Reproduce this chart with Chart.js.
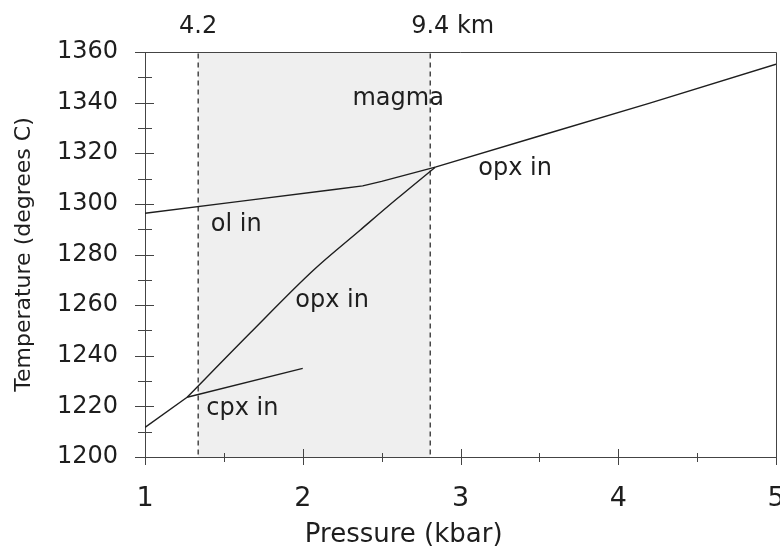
<!DOCTYPE html>
<html>
<head>
<meta charset="utf-8">
<script src="https://cdn.jsdelivr.net/npm/chart.js@4.4.1/dist/chart.umd.min.js"></script>
<style>
  body { margin: 0; background: #fff; }
  #wrap { width: 780px; height: 546px; }
</style>
</head>
<body>
<div id="wrap"><canvas id="phaseChart"></canvas></div>
<script>
// Pressure (kbar) / temperature (degrees C)
const olInP = [1, 1.6, 2.2, 2.38, 2.5, 2.84];
const olInT = [1296.3, 1301.0, 1305.7, 1307.1, 1308.9, 1314.5];

const opxHighP = [2.84, 3.5, 4.2, 5];
const opxHighT = [1314.5, 1326.8, 1339.8, 1355.2];

const opxLowP = [1.267, 1.668, 2.069, 2.365, 2.597, 2.84];
const opxLowT = [1223.6, 1249.1, 1273.9, 1289.7, 1302.0, 1314.5];

const cpxLowP = [1, 1.267];
const cpxLowT = [1211.7, 1223.6];

const cpxInP = [1.267, 2.0];
const cpxInT = [1223.6, 1235.0];

// magma chamber limits (depth labels on top)
const depthP = [1.337, 2.808];
const depthLabels = ['4.2', '9.4 km'];

// phase field labels
const labelText = ['magma', 'ol in', 'opx in', 'opx in', 'cpx in'];
const labelP = [2.605, 1.578, 2.186, 3.346, 1.617];
const labelT = [1339.1, 1289.4, 1259.1, 1311.4, 1216.6];

// axis ticks
const xTicks = [1, 2, 3, 4, 5];
const xMinor = [1.5, 2.5, 3.5, 4.5];
const yTicks = [1200, 1220, 1240, 1260, 1280, 1300, 1320, 1340, 1360];
const yMinor = [1210, 1230, 1250, 1270, 1290, 1310, 1330, 1350];

const xTitle = 'Pressure (kbar)';
const yTitle = 'Temperature (degrees C)';

const INK = '#1e1e1e';
const AXIS = '#444';

function toPoints(px, py) {
    return px.map((p, i) => ({ x: p, y: py[i] }));
}

function curve(px, py, smooth) {
    return {
        data: toPoints(px, py),
        showLine: true,
        borderColor: INK,
        borderWidth: 1.4,
        pointRadius: 0,
        cubicInterpolationMode: smooth ? 'monotone' : 'default',
        fill: false
    };
}

const datasets = [
    curve(olInP, olInT),
    curve(opxHighP, opxHighT),
    curve(opxLowP, opxLowT, true),
    curve(cpxLowP, cpxLowT),
    curve(cpxInP, cpxInT)
];

// dashed limits of the magma chamber
depthP.forEach(p => {
    datasets.push({
        data: [{ x: p, y: 1201 }, { x: p, y: 1360 }],
        showLine: true,
        borderColor: INK,
        borderWidth: 1.2,
        borderDash: [5, 4],
        pointRadius: 0,
        fill: false
    });
});

// shaded band between them
datasets.push({
    data: [{ x: depthP[0], y: 1360 }, { x: depthP[1], y: 1360 }],
    showLine: true,
    borderWidth: 0,
    pointRadius: 0,
    backgroundColor: '#efefef',
    fill: 'start',
    order: 10
});

// ticks crossing the axes, frame and text labels
const decorations = {
    id: 'decorations',
    afterDraw(chart) {
        const { ctx, chartArea: a, scales: { x, y } } = chart;
        ctx.save();

        ctx.strokeStyle = AXIS;
        ctx.lineWidth = 1;
        ctx.beginPath();
        ctx.moveTo(a.left, a.top + 0.5);
        ctx.lineTo(a.right + 0.5, a.top + 0.5);
        ctx.lineTo(a.right + 0.5, a.bottom);
        ctx.stroke();

        ctx.beginPath();
        yTicks.forEach(v => {
            const py = Math.round(y.getPixelForValue(v)) + 0.5;
            ctx.moveTo(a.left - 10, py);
            ctx.lineTo(a.left + 9, py);
        });
        yMinor.forEach(v => {
            const py = Math.round(y.getPixelForValue(v)) + 0.5;
            ctx.moveTo(a.left - 7, py);
            ctx.lineTo(a.left + 7, py);
        });
        xTicks.forEach(v => {
            const px = Math.round(x.getPixelForValue(v)) + 0.5;
            ctx.moveTo(px, a.bottom - 8);
            ctx.lineTo(px, a.bottom + 8);
        });
        xMinor.forEach(v => {
            const px = Math.round(x.getPixelForValue(v)) + 0.5;
            ctx.moveTo(px, a.bottom - 4);
            ctx.lineTo(px, a.bottom + 5);
        });
        ctx.stroke();

        ctx.fillStyle = INK;
        ctx.font = '24px "DejaVu Sans"';
        ctx.textBaseline = 'alphabetic';
        ctx.textAlign = 'center';
        labelText.forEach((t, i) => {
            ctx.fillText(t, x.getPixelForValue(labelP[i]), y.getPixelForValue(labelT[i]));
        });

        // depth labels: number centred on its dashed line
        ctx.textAlign = 'left';
        depthLabels.forEach((t, i) => {
            const num = t.split(' ')[0];
            const w = ctx.measureText(num).width;
            ctx.fillText(t, x.getPixelForValue(depthP[i]) - w / 2, a.top - 19);
        });

        // x axis title sits left of centre in the original
        ctx.font = '26px "DejaVu Sans"';
        ctx.textAlign = 'center';
        ctx.fillText(xTitle, x.getPixelForValue(2.64), 542);

        ctx.restore();
    }
};

new Chart(document.getElementById('phaseChart'), {
    type: 'scatter',
    data: { datasets: datasets },
    options: {
        responsive: true,
        maintainAspectRatio: false,
        animation: false,
        layout: { padding: { top: 52, right: 4, left: 0, bottom: 0 } },
        plugins: {
            legend: { display: false },
            tooltip: { enabled: false }
        },
        scales: {
            x: {
                type: 'linear',
                min: 1,
                max: 5,
                afterBuildTicks: s => { s.ticks = xTicks.map(v => ({ value: v })); },
                afterFit: s => { s.height = 89; s.paddingLeft = 0; s.paddingRight = 0; },
                grid: { display: false, drawTicks: false },
                border: { display: true, color: AXIS, width: 1 },
                ticks: {
                    color: INK,
                    padding: 26,
                    font: { family: 'DejaVu Sans', size: 27 },
                    callback: v => String(v)
                }
            },
            y: {
                type: 'linear',
                min: 1200,
                max: 1360,
                afterBuildTicks: s => { s.ticks = yTicks.map(v => ({ value: v })); },
                afterFit: s => { s.width = 145; s.paddingTop = 0; s.paddingBottom = 0; },
                grid: { display: false, drawTicks: false },
                border: { display: true, color: AXIS, width: 1 },
                ticks: {
                    color: INK,
                    padding: 27,
                    font: { family: 'DejaVu Sans', size: 24 },
                    callback: v => String(v)
                },
                title: {
                    display: true,
                    text: yTitle,
                    color: INK,
                    padding: { top: 11, bottom: 0 },
                    font: { family: 'DejaVu Sans', size: 22 }
                }
            }
        }
    },
    plugins: [decorations]
});
</script>
</body>
</html>
